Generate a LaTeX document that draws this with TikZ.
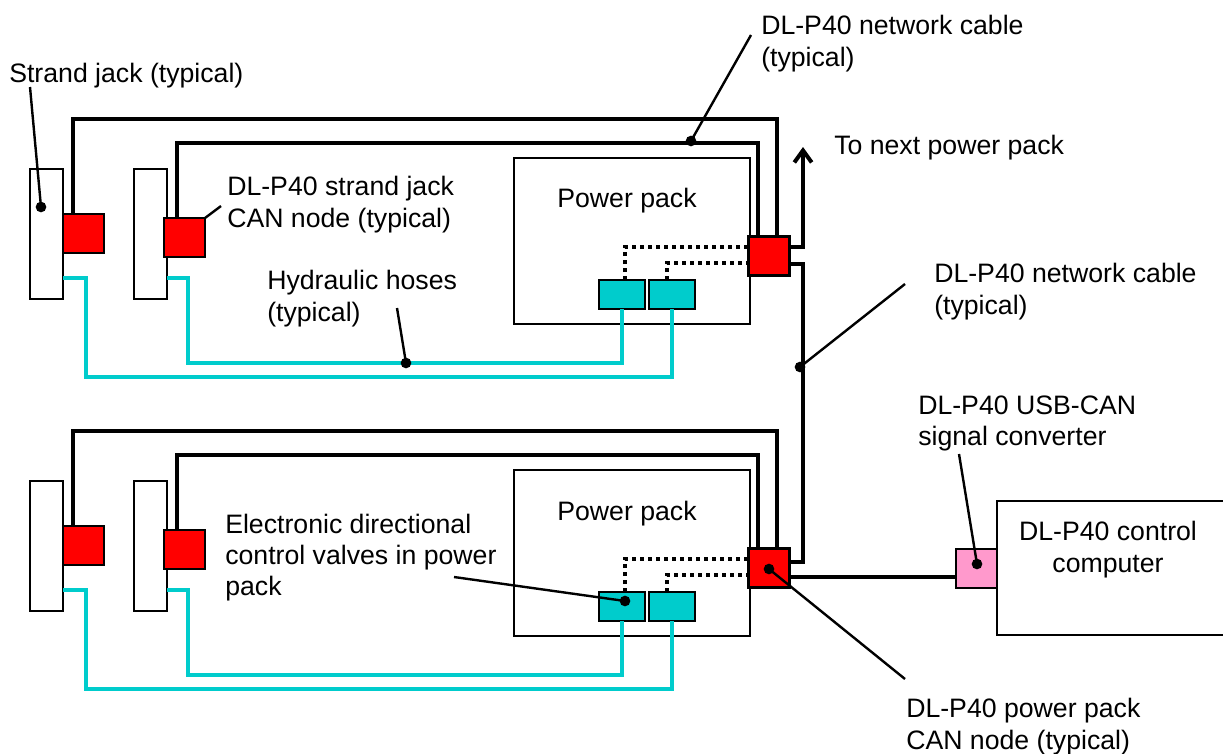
\documentclass[tikz,border=0pt]{standalone}
\usepackage{fontspec}
\setmainfont{Liberation Sans}
\usetikzlibrary{arrows.meta}
\definecolor{canred}{HTML}{FF0000}
\definecolor{hosecyan}{HTML}{00CCCC}
\definecolor{usbpink}{HTML}{FF99CC}

\begin{document}
\begin{tikzpicture}[
        x=0.75pt, y=-0.75pt,
        font=\fontsize{20}{23.5}\selectfont,
        unit/.style={draw, line width=2pt, inner sep=0pt, outer sep=0pt},
        jack/.style={unit, fill=white, minimum width=24.75pt, minimum height=97.5pt},
        cannode/.style={unit, fill=canred, minimum width=30.75pt, minimum height=29.25pt},
        valve/.style={unit, fill=hosecyan, minimum width=34.5pt, minimum height=21.75pt},
        pack/.style={unit, minimum width=177pt, minimum height=124.5pt},
        label/.style={anchor=west, align=left, inner sep=0pt},
        cable/.style={line width=3pt},
        hose/.style={line width=2.6pt, color=hosecyan},
        signal/.style={line width=3pt, dash pattern=on 3pt off 3pt},
        leader/.style={line width=1.8pt},
        pin/.style={circle, fill=black, minimum size=8pt, inner sep=0pt}
        ]
        \useasboundingbox (0,0) rectangle (1223,753);
        % the two identical jack groups
        \foreach \row/\dy in {a/0, b/312} {
            \begin{scope}[shift={(0,\dy)}, name prefix=\row-]
                \node[pack] (pack) at (632,241) {};
                \node[jack] (jackA) at (46.5,234) {};
                \node[jack] (jackB) at (150.5,234) {};
                \node[cannode] (canA) at (83.5,233.5) {};
                \node[cannode] (canB) at (184.5,237.5) {};
                \node[cannode] (canP) at (769,256) {};
                \node[valve] (valveA) at (622,294.5) {};
                \node[valve] (valveB) at (672,294.5) {};
                % network cables
                \coordinate (wireA) at (73,119);
                \coordinate (wireB) at (177,143);
                \coordinate (dropA) at (777,237);
                \coordinate (dropB) at (758,237);
                \draw[cable] (canA.north -| wireA) -- (wireA) -| (dropA);
                \draw[cable] (canB.north -| wireB) -- (wireB) -| (dropB);
                % valve signals
                \coordinate (sigA) at (625,247);
                \coordinate (sigB) at (667,263);
                \draw[signal] (valveA.north -| sigA) -- (sigA) -- (sigA -| canP.west);
                \draw[signal] (valveB.north -| sigB) -- (sigB) -- (sigB -| canP.west);
                % hoses
                \coordinate (hoseA) at (188,363);
                \coordinate (hoseB) at (86,377);
                \coordinate (portA) at (167,278);
                \coordinate (portB) at (63,278);
                \draw[hose] (valveA.south) |- (hoseA) |- (portA);
                \draw[hose] (valveB.south) |- (hoseB) |- (portB);
            \end{scope}
        }
        % links between the power packs
        \coordinate (nextTip) at (803,147);
        \coordinate (nextOut) at (789,247);
        \coordinate (busTop) at (803,264);
        \coordinate (busBot) at (803,562);
        \coordinate (usbIn) at (956,577);
        \draw[cable, -{Straight Barb[length=9pt, width=13pt]}] (nextOut) -| (nextTip);
        \draw[cable] (a-canP.east |- busTop) -- (busTop) -- (busBot) -- (b-canP.east |- busBot);
        % computer end
        \node[unit, minimum width=172.5pt, minimum height=100.5pt] (computer) at (1112,568) {};
        \node[unit, fill=usbpink, minimum width=30.75pt, minimum height=29.25pt] (usb) at (976.5,568.5) {};
        \draw[line width=3.6pt] (b-canP.east |- usbIn) -- (usbIn);
        % labels
        \node[label] (lblJack) at (9,75.5) {Strand jack (typical)};
        \node[label] (lblCableA) at (761,43.5) {DL-P40 network cable\\(typical)};
        \node[label] (lblNext) at (834,147.5) {To next power pack};
        \node[label] (lblCan) at (227,204.5) {DL-P40 strand jack\\CAN node (typical)};
        \node[label] (lblHose) at (267,298.5) {Hydraulic hoses\\(typical)};
        \node[label] (lblCableB) at (934,291.5) {DL-P40 network cable\\(typical)};
        \node[label] (lblUsb) at (918,423.5) {DL-P40 USB-CAN\\signal converter};
        \node[label] (lblValve) at (225,557.5) {Electronic directional\\control valves in power\\pack};
        \node[label] (lblCanP) at (906,726.5) {DL-P40 power pack\\CAN node (typical)};
        \node[label, anchor=center] (lblPackA) at (627,200.5) {Power pack};
        \node[label, anchor=center] (lblPackB) at (627,513.5) {Power pack};
        \node[label, anchor=center, align=center] (lblComp) at (1108,549.5) {DL-P40 control\\computer};
        % pointers
        \node[pin] (pinJack) at (41,207) {};
        \node[pin] (pinCableA) at (691,141) {};
        \node[pin] (pinHose) at (406,363) {};
        \node[pin] (pinCableB) at (800,367) {};
        \node[pin] (pinValve) at (625,601) {};
        \node[pin] (pinCanP) at (769,569) {};
        \node[pin] (pinUsb) at (977,564) {};
        \coordinate (endJack) at (30,87);
        \coordinate (endCableA) at (751,35);
        \coordinate (endCan) at (221,206);
        \coordinate (endHose) at (397,308);
        \coordinate (endCableB) at (905,284);
        \coordinate (endValve) at (454,577);
        \coordinate (endCanP) at (905,679);
        \coordinate (endUsb) at (959,454);
        \draw[leader] (pinJack.center) -- (endJack);
        \draw[leader] (pinCableA.center) -- (endCableA);
        \draw[leader] (a-canB.north east) -- (endCan);
        \draw[leader] (pinHose.center) -- (endHose);
        \draw[leader] (pinCableB.center) -- (endCableB);
        \draw[leader] (pinValve.center) -- (endValve);
        \draw[leader] (pinCanP.center) -- (endCanP);
        \draw[leader] (pinUsb.center) -- (endUsb);
    \end{tikzpicture}
\end{document}
